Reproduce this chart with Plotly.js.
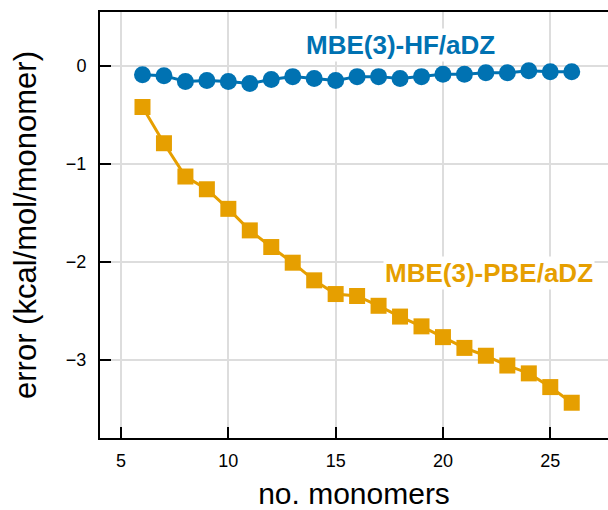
<!DOCTYPE html>
<html>
<head>
<meta charset="utf-8">
<script src="https://cdn.plot.ly/plotly-3.0.1.min.js"></script>
<style>html,body{margin:0;padding:0;background:#fff;}#chart{width:608px;height:510px;}</style>
</head>
<body>
<div id="chart"></div>
<script>
const monomers = [6,7,8,9,10,11,12,13,14,15,16,17,18,19,20,21,22,23,24,25,26];
const hfError = [-0.09,-0.10,-0.16,-0.15,-0.16,-0.18,-0.14,-0.11,-0.13,-0.15,-0.11,-0.11,-0.13,-0.11,-0.085,-0.085,-0.07,-0.07,-0.05,-0.06,-0.06];
const pbeError = [-0.42,-0.79,-1.13,-1.26,-1.46,-1.68,-1.85,-2.01,-2.19,-2.33,-2.35,-2.45,-2.56,-2.66,-2.77,-2.88,-2.96,-3.06,-3.14,-3.28,-3.44];
const xTicks = [5,10,15,20,25];
const yTicks = [0,-1,-2,-3];
const hfLabel = "MBE(3)-HF/aDZ";
const pbeLabel = "MBE(3)-PBE/aDZ";

const blue = "#0072B2", orange = "#E69F00";
const font = "Liberation Sans, Arial, Helvetica, sans-serif";

const traces = [
  {x: monomers, y: pbeError, mode: "lines+markers", type: "scatter",
   line: {color: orange, width: 3}, marker: {symbol: "square", size: 16, color: orange}},
  {x: monomers, y: hfError, mode: "lines+markers", type: "scatter",
   line: {color: blue, width: 3}, marker: {symbol: "circle", size: 17, color: blue}}
];

const layout = {
  width: 608, height: 510,
  margin: {l: 100, r: 0, t: 12, b: 72},
  showlegend: false,
  paper_bgcolor: "#fff", plot_bgcolor: "#fff",
  font: {family: font, color: "#000"},
  xaxis: {
    range: [4.02, 27.69], tickvals: xTicks, ticktext: xTicks.map(String),
    ticks: "inside", ticklen: 11, tickwidth: 2, tickcolor: "#000",
    showline: true, linecolor: "#000", linewidth: 2, mirror: true,
    showgrid: true, gridcolor: "#dddddd", gridwidth: 2, zeroline: false,
    tickfont: {size: 18, family: font}, ticklabelstandoff: 5,
    title: {text: "no. monomers", font: {size: 30, family: font}, standoff: 13}
  },
  yaxis: {
    range: [-3.80, 0.55], tickvals: yTicks,
    ticks: "inside", ticklen: 11, tickwidth: 2, tickcolor: "#000",
    showline: true, linecolor: "#000", linewidth: 2, mirror: false,
    showgrid: true, gridcolor: "#dddddd", gridwidth: 2, zeroline: false,
    tickfont: {size: 18, family: font}, ticklabelstandoff: 8,
    title: {text: "error (kcal/mol/monomer)", font: {size: 31, family: font}, standoff: 20}
  },
  annotations: [
    {x: 18.0, y: 0.215, xref: "x", yref: "y", text: "<b>" + hfLabel + "</b>", showarrow: false,
     font: {size: 26, color: blue, family: font}, bgcolor: "#fff"},
    {x: 22.15, y: -2.11, xref: "x", yref: "y", text: "<b>" + pbeLabel + "</b>", showarrow: false,
     font: {size: 26, color: orange, family: font}, bgcolor: "#fff"}
  ]
};

Plotly.newPlot("chart", traces, layout, {displayModeBar: false, staticPlot: true});
</script>
</body>
</html>
